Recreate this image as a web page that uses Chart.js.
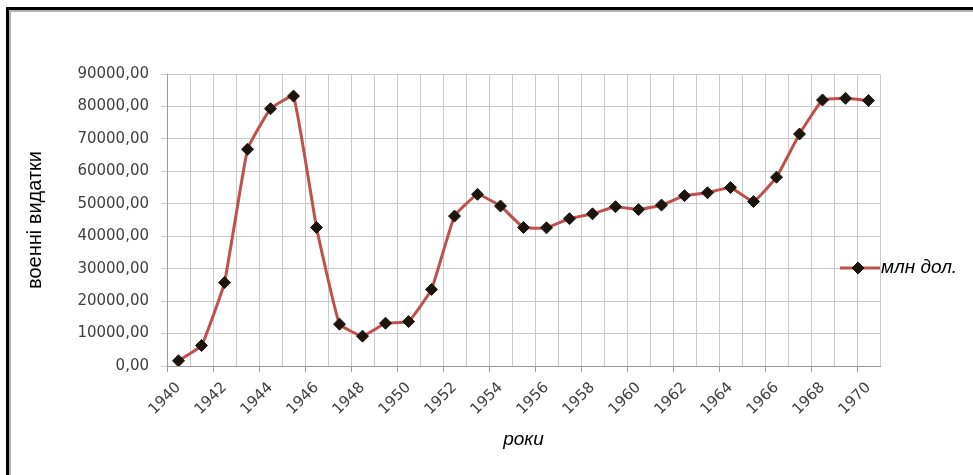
<!DOCTYPE html>
<html lang="uk">
<head>
  <meta charset="UTF-8">
  <title>Воєнні видатки США 1940-1970</title>
  <script src="https://cdn.jsdelivr.net/npm/chart.js"></script>
  <style>
    html, body { margin: 0; padding: 0; background: #fff; overflow: hidden; }
    .frame {
      position: absolute; left: 6px; top: 7px; width: 1200px; height: 700px;
      border-top: 3px solid #000; border-left: 3px solid #000;
      box-shadow: inset 2px 2px 0 #b4b4b4;
    }
    #chart { position: absolute; left: 0; top: 0; }
  </style>
</head>
<body>
  <div class="frame"></div>
  <canvas id="chart" width="973" height="475"></canvas>
  <script>
    // роки по осі X
    const years = ['1940', '1941', '1942', '1943', '1944', '1945', '1946', '1947', '1948', '1949',
                   '1950', '1951', '1952', '1953', '1954', '1955', '1956', '1957', '1958', '1959',
                   '1960', '1961', '1962', '1963', '1964', '1965', '1966', '1967', '1968', '1969', '1970'];
    // млн дол.
    const spending = [1600, 6300, 25700, 66800, 79300, 83200, 42700, 12900, 9200, 13200,
                      13700, 23600, 46200, 52900, 49300, 42700, 42600, 45400, 46900, 49100,
                      48200, 49600, 52500, 53400, 55000, 50700, 58200, 71500, 82000, 82500, 81800];
    const yTicks = [0, 10000, 20000, 30000, 40000, 50000, 60000, 70000, 80000, 90000];
    const seriesName = 'млн дол.';
    const yTitle = 'военні видатки';
    const xTitle = 'роки';

    const narrow = "'Liberation Sans Narrow', 'Liberation Sans', sans-serif";
    const tickFont = { family: "'DejaVu Sans', sans-serif", size: 15 };

    // легенда праворуч, поверх краю області графіка
    const sideLegend = {
      id: 'sideLegend',
      afterDraw(chart) {
        const ctx = chart.ctx;
        const ds = chart.data.datasets[0];
        const y = 268;
        ctx.save();
        ctx.strokeStyle = ds.borderColor;
        ctx.lineWidth = ds.borderWidth;
        ctx.beginPath();
        ctx.moveTo(840, y);
        ctx.lineTo(880, y);
        ctx.stroke();
        ctx.fillStyle = ds.pointBackgroundColor;
        ctx.strokeStyle = ds.pointBorderColor;
        ctx.lineWidth = 1;
        Chart.helpers.drawPoint(ctx, { pointStyle: 'rectRot', radius: ds.pointRadius, borderWidth: 1 }, 858, y);
        ctx.fillStyle = '#000';
        ctx.font = 'italic 19px ' + narrow;
        ctx.textAlign = 'left';
        ctx.textBaseline = 'middle';
        ctx.fillText(ds.label, 881, y);
        ctx.restore();
      }
    };

    new Chart(document.getElementById('chart'), {
      type: 'line',
      data: {
        labels: years,
        datasets: [{
          label: seriesName,
          data: spending,
          borderColor: '#c0504d',
          borderWidth: 3,
          tension: 0.1,
          pointStyle: 'rectRot',
          pointRadius: 6,
          pointBackgroundColor: '#1c150d',
          pointBorderColor: '#1c150d',
          pointBorderWidth: 1
        }]
      },
      options: {
        responsive: false,
        animation: false,
        layout: { padding: { left: 15, top: 74, right: 93, bottom: 20 } },
        plugins: {
          legend: { display: false },
          tooltip: { enabled: false }
        },
        scales: {
          x: {
            type: 'category',
            offset: true,
            grid: {
              offset: true,
              color: '#cacaca',
              lineWidth: 1,
              tickLength: 6,
              tickColor: ctx => (ctx.index % 2 === 0 ? '#9a9a9a' : 'rgba(0,0,0,0)')
            },
            border: { color: '#9a9a9a' },
            ticks: {
              autoSkip: false,
              maxRotation: 45,
              minRotation: 45,
              padding: 7,
              color: '#404040',
              font: tickFont,
              callback: (v, i) => (i % 2 === 0 ? years[i] : '')
            },
            title: {
              display: true,
              text: xTitle,
              color: '#000',
              font: { family: narrow, size: 19, style: 'italic' },
              padding: { top: 4, bottom: 4 }
            },
            afterFit: s => { s.height = 475 - 20 - 366; }
          },
          y: {
            min: 0,
            max: 90000,
            afterBuildTicks: s => { s.ticks = yTicks.map(v => ({ value: v })); },
            grid: { color: '#cacaca', lineWidth: 1, tickLength: 6, tickColor: '#cacaca' },
            border: { color: '#9a9a9a' },
            ticks: {
              padding: 12,
              color: '#404040',
              font: tickFont,
              callback: v => v.toFixed(2).replace('.', ',')
            },
            title: {
              display: true,
              text: yTitle,
              color: '#000',
              font: { family: narrow, size: 20 },
              padding: { top: 8, bottom: 4 }
            },
            afterFit: s => { s.width = 167 - 15; }
          }
        }
      },
      plugins: [sideLegend]
    });
  </script>
</body>
</html>
